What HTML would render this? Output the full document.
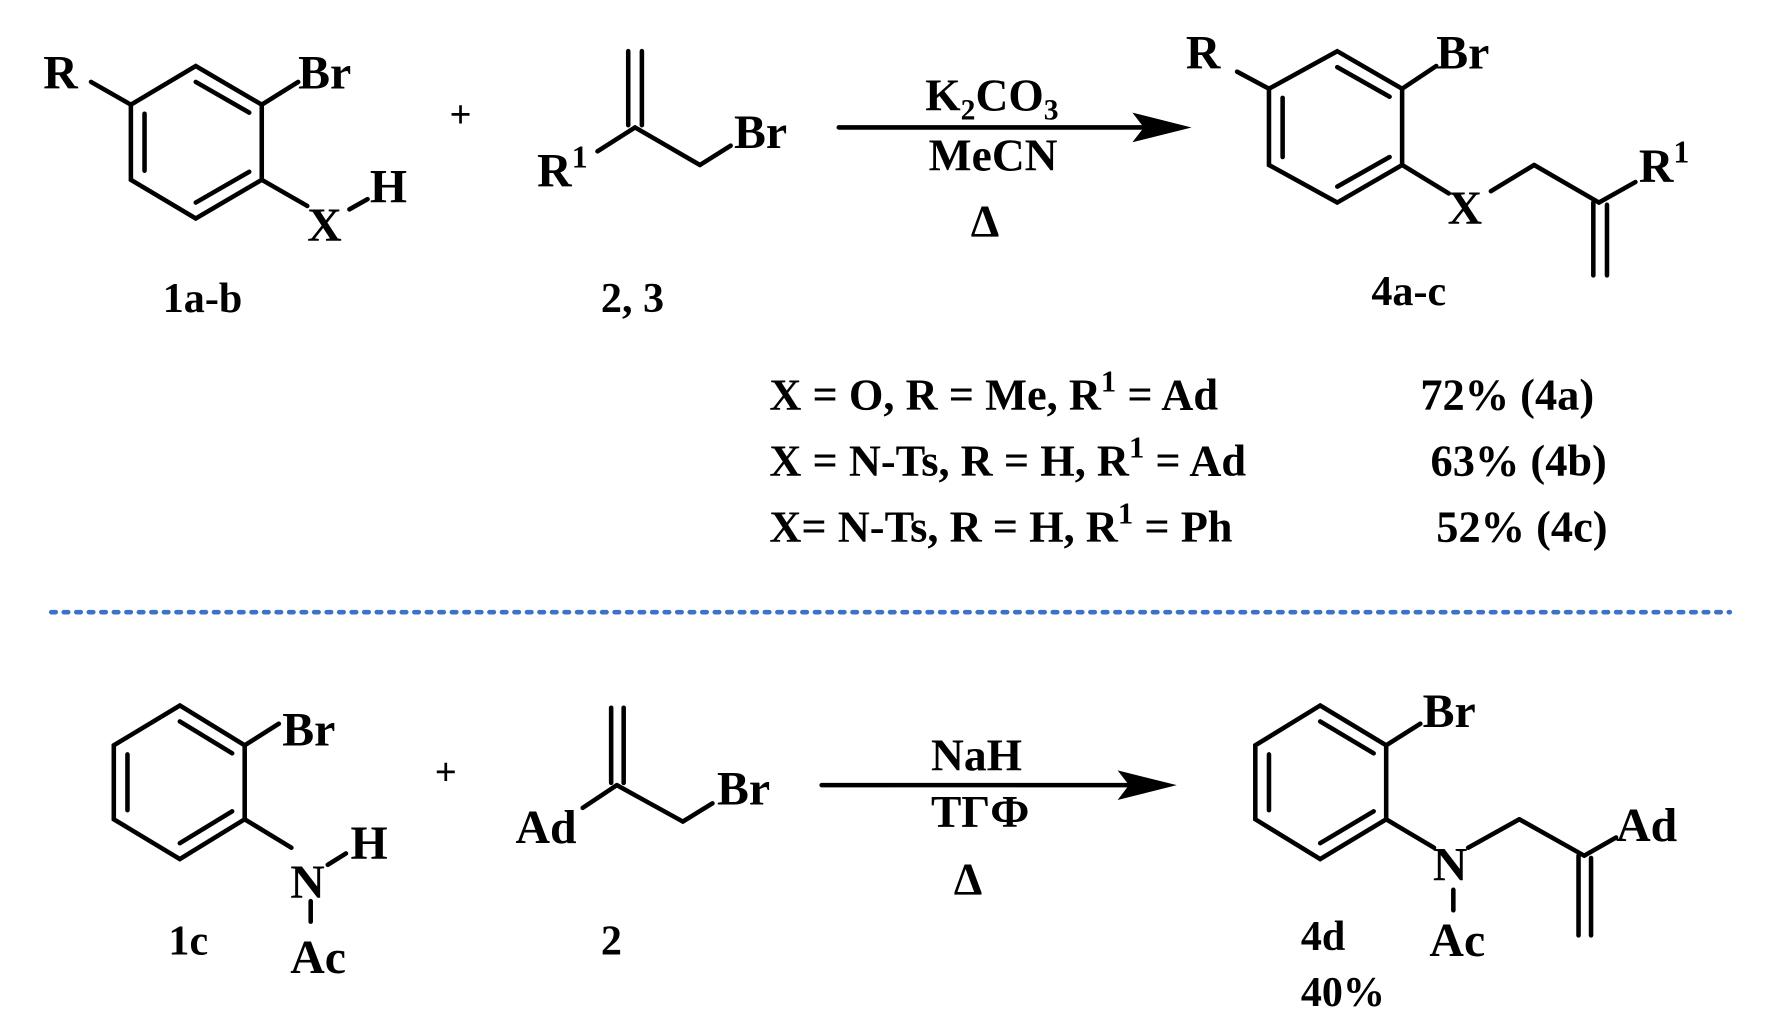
<!DOCTYPE html>
<html><head><meta charset="utf-8"><style>
html,body{margin:0;padding:0;background:#fff;}
svg{display:block;}
text{font-family:"Liberation Serif",serif;font-weight:bold;fill:#000;}
</style></head><body>
<svg width="1772" height="1015" viewBox="0 0 1557 892" preserveAspectRatio="none" xmlns="http://www.w3.org/2000/svg">
<g stroke="#000" stroke-width="4" fill="none" stroke-linecap="round">
<polygon points="115,92 172,58 230,92 230,158 172,192 115,158"/>
<line x1="172" y1="72" x2="219" y2="99"/>
<line x1="127" y1="100" x2="127" y2="150"/>
<line x1="172" y1="178" x2="219" y2="151"/>
<line x1="80" y1="72" x2="115" y2="92"/>
<line x1="230" y1="92" x2="262" y2="72"/>
<line x1="230" y1="158" x2="270" y2="181"/>
<line x1="307" y1="184" x2="323" y2="175"/>
<line x1="552" y1="45" x2="552" y2="110"/>
<line x1="564" y1="45" x2="564" y2="110"/>
<line x1="558" y1="112" x2="525" y2="133"/>
<line x1="558" y1="112" x2="615" y2="145"/>
<line x1="615" y1="145" x2="642" y2="128"/>
<line x1="737" y1="112" x2="1005" y2="112"/>
<polygon points="1115,78 1175,45 1232,78 1232,145 1175,178 1115,145"/>
<line x1="1175" y1="59" x2="1221" y2="85"/>
<line x1="1127" y1="86" x2="1127" y2="138"/>
<line x1="1175" y1="164" x2="1221" y2="138"/>
<line x1="1087" y1="63" x2="1115" y2="78"/>
<line x1="1232" y1="78" x2="1262" y2="58"/>
<line x1="1232" y1="145" x2="1273" y2="170"/>
<line x1="1310" y1="168" x2="1348" y2="145"/>
<line x1="1348" y1="145" x2="1405" y2="178"/>
<line x1="1405" y1="178" x2="1437" y2="160"/>
<line x1="1400" y1="178" x2="1400" y2="242"/>
<line x1="1412" y1="180" x2="1412" y2="242"/>
<polygon points="158,620 215,655 215,720 158,755 100,720 100,655"/>
<line x1="158" y1="634" x2="204" y2="662"/>
<line x1="112" y1="663" x2="112" y2="712"/>
<line x1="158" y1="741" x2="204" y2="713"/>
<line x1="215" y1="655" x2="245" y2="636"/>
<line x1="215" y1="720" x2="256" y2="745"/>
<line x1="288" y1="760" x2="304" y2="750"/>
<line x1="273" y1="792" x2="273" y2="810"/>
<line x1="537" y1="622" x2="537" y2="688"/>
<line x1="548" y1="622" x2="548" y2="688"/>
<line x1="542" y1="690" x2="512" y2="710"/>
<line x1="542" y1="690" x2="600" y2="722"/>
<line x1="600" y1="722" x2="626" y2="706"/>
<line x1="722" y1="690" x2="992" y2="690"/>
<polygon points="1160,620 1218,655 1218,720 1160,755 1103,720 1103,655"/>
<line x1="1160" y1="634" x2="1207" y2="662"/>
<line x1="1115" y1="663" x2="1115" y2="712"/>
<line x1="1160" y1="741" x2="1207" y2="713"/>
<line x1="1218" y1="655" x2="1248" y2="636"/>
<line x1="1218" y1="720" x2="1260" y2="745"/>
<line x1="1290" y1="745" x2="1335" y2="720"/>
<line x1="1335" y1="720" x2="1392" y2="752"/>
<line x1="1392" y1="752" x2="1420" y2="736"/>
<line x1="1387" y1="752" x2="1387" y2="822"/>
<line x1="1398" y1="754" x2="1398" y2="822"/>
<line x1="1277" y1="782" x2="1277" y2="800"/>
</g>
<polygon points="1047,112 995,99 1005,112 995,125" fill="#000"/>
<polygon points="1034,690 982,677 992,690 982,703" fill="#000"/>
<line x1="45" y1="538" x2="1520" y2="538" stroke="#3d72c8" stroke-width="4" stroke-dasharray="4,7" stroke-linecap="round"/>
<g font-size="42">
<text x="38" y="78">R</text>
<text x="262" y="78">Br</text>
<text x="270" y="212">X</text>
<text x="325" y="178">H</text>
<text x="143" y="274" font-size="37">1a-b</text>
<text x="395" y="112" font-weight="normal" font-size="34">+</text>
<text x="472" y="164">R<tspan font-size="28" dy="-17">1</tspan></text>
<text x="645" y="130">Br</text>
<text x="528" y="274" font-size="37">2, 3</text>
<text x="813" y="97" font-size="40">K<tspan font-size="26" dy="8">2</tspan><tspan dy="-8">CO</tspan><tspan font-size="26" dy="8">3</tspan></text>
<text x="816" y="150" font-size="40">MeCN</text>
<text x="853" y="208" font-size="40">Δ</text>
<text x="1042" y="60">R</text>
<text x="1262" y="60">Br</text>
<text x="1272" y="197">X</text>
<text x="1440" y="160">R<tspan font-size="28" dy="-17">1</tspan></text>
<text x="1205" y="268" font-size="37">4a-c</text>
<g font-size="39">
<text x="676" y="360">X = O, R = Me, R<tspan font-size="27" dy="-16">1</tspan><tspan dy="16"> = Ad</tspan></text>
<text x="676" y="418">X = N-Ts, R = H, R<tspan font-size="27" dy="-16">1</tspan><tspan dy="16"> = Ad</tspan></text>
<text x="676" y="476">X= N-Ts, R = H, R<tspan font-size="27" dy="-16">1</tspan><tspan dy="16"> = Ph</tspan></text>
<text x="1248" y="360">72% (4a)</text>
<text x="1257" y="418">63% (4b)</text>
<text x="1262" y="476">52% (4c)</text>
</g>
<text x="248" y="655">Br</text>
<text x="255" y="789">N</text>
<text x="308" y="755">H</text>
<text x="255" y="855">Ac</text>
<text x="148" y="839" font-size="37">1c</text>
<text x="382" y="690" font-weight="normal" font-size="34">+</text>
<text x="453" y="741">Ad</text>
<text x="630" y="707">Br</text>
<text x="528" y="839" font-size="37">2</text>
<text x="818" y="677" font-size="40">NaH</text>
<text x="818" y="727" font-size="40">ТГФ</text>
<text x="838" y="786" font-size="40">Δ</text>
<text x="1250" y="639">Br</text>
<text x="1259" y="774">N</text>
<text x="1420" y="739">Ad</text>
<text x="1256" y="840">Ac</text>
<text x="1143" y="835" font-size="37">4d</text>
<text x="1143" y="884" font-size="37">40%</text>
</g>
</svg>
</body></html>
